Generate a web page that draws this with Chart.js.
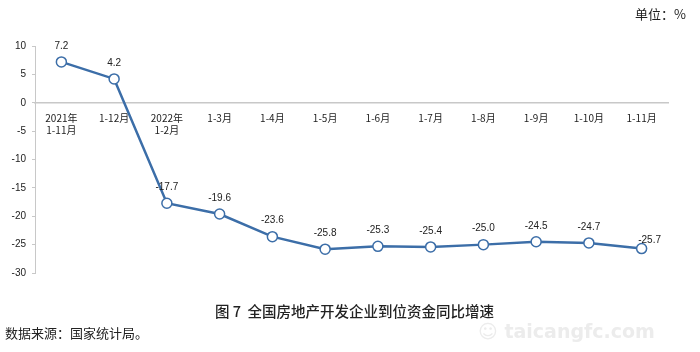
<!DOCTYPE html>
<html>
<head>
<meta charset="utf-8">
<script src="https://cdn.jsdelivr.net/npm/chart.js@4.4.0/dist/chart.umd.min.js"></script>
<style>
  body { margin: 0; background: #fff; }
  #wrap { position: relative; width: 700px; height: 352px; overflow: hidden; }
  .txt { position: absolute; font-family: "Noto Sans CJK SC", sans-serif; color: #222; white-space: nowrap; }
</style>
</head>
<body>
<div id="wrap">
  <canvas id="myChart" width="700" height="352"></canvas>
  <div class="txt" style="right:14px; top:4px; font-size:13px;">单位：%</div>
  <div class="txt" style="left:215px; top:300px; font-size:14.5px; font-weight:500;">图 7&nbsp;&nbsp;全国房地产开发企业到位资金同比增速</div>
  <div class="txt" style="left:5px; top:323px; font-size:13px;">数据来源：国家统计局。</div>
  <div class="txt" style="left:478px; top:320px; font-size:19px; font-weight:bold; color:#ececec; font-family:'DejaVu Sans',sans-serif;">☺ taicangfc.com</div>
</div>
<script>
const categories = [["2021年", "1-11月"], "1-12月", ["2022年", "1-2月"], "1-3月", "1-4月", "1-5月",
  "1-6月", "1-7月", "1-8月", "1-9月", "1-10月", "1-11月"];
const growth = [7.2, 4.2, -17.7, -19.6, -23.6, -25.8, -25.3, -25.4, -25.0, -24.5, -24.7, -25.7];
const yTicks = [10, 5, 0, -5, -10, -15, -20, -25, -30];

// value labels above each point
const valueLabels = {
  id: "valueLabels",
  afterDatasetsDraw(chart) {
    const ctx = chart.ctx;
    const meta = chart.getDatasetMeta(0);
    ctx.save();
    ctx.font = "10px 'Liberation Sans', sans-serif";
    ctx.fillStyle = "#222";
    ctx.textAlign = "center";
    ctx.textBaseline = "middle";
    meta.data.forEach((pt, i) => {
      const last = i === meta.data.length - 1;
      const dx = last ? 8 : 0;
      const dy = last ? -8 : -16;
      ctx.fillText(growth[i].toFixed(1), pt.x + dx, pt.y + dy);
    });
    ctx.restore();
  }
};

const ctx = document.getElementById("myChart");
new Chart(ctx, {
  type: "line",
  data: {
    labels: categories,
    datasets: [{
      data: growth,
      borderColor: "#3c6ea8",
      borderWidth: 2.5,
      pointRadius: 5,
      pointBackgroundColor: "#fff",
      pointBorderColor: "#3c6ea8",
      pointBorderWidth: 1.5,
      tension: 0
    }]
  },
  options: {
    responsive: false,
    animation: false,
    layout: { padding: { top: 46, right: 32, bottom: 79, left: 0 } },
    plugins: { legend: { display: false }, tooltip: { enabled: false } },
    scales: {
      x: {
        position: { y: 0 },
        offset: true,
        grid: { display: false },
        border: { color: "#c8c8c8", width: 1.5 },
        ticks: {
          color: "#222",
          font: { size: 10, family: "'Noto Sans CJK SC', sans-serif" },
          padding: 1,
          maxRotation: 0,
          autoSkip: false
        }
      },
      y: {
        min: -30,
        max: 10,
        afterFit(axis) { axis.width = 35; },
        afterBuildTicks(axis) { axis.ticks = yTicks.map(v => ({ value: v })); },
        grid: { drawOnChartArea: false, tickLength: 3, color: "#c8c8c8" },
        border: { color: "#c8c8c8", width: 1 },
        ticks: {
          color: "#222",
          font: { size: 10, family: "'Liberation Sans', sans-serif" },
          padding: 6
        }
      }
    }
  },
  plugins: [valueLabels]
});
</script>
</body>
</html>
